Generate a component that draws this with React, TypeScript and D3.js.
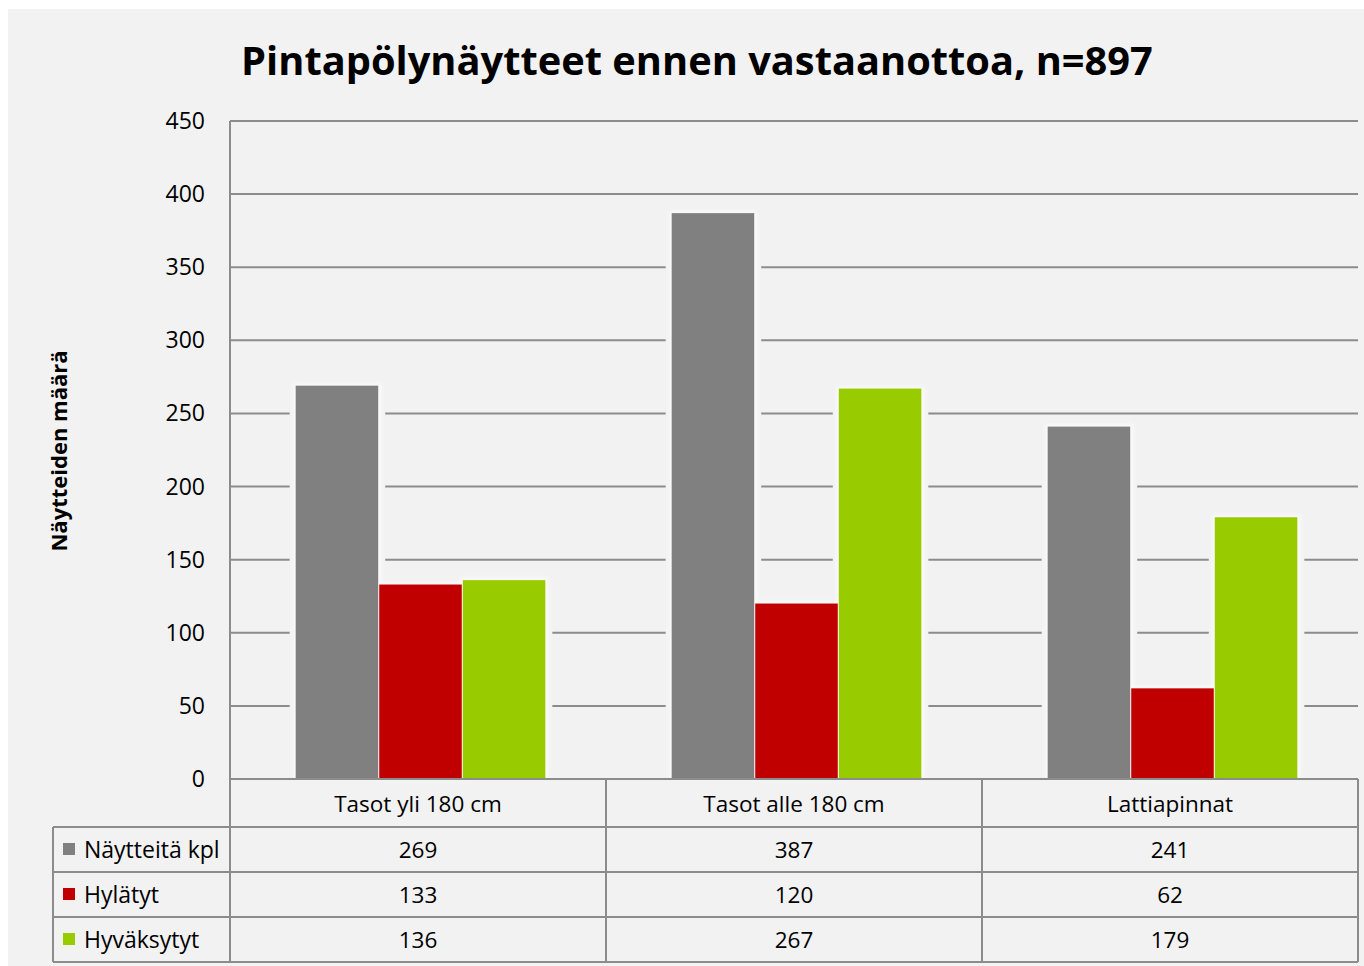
import React, { useEffect } from "react";
import * as d3 from "d3";

const categories = ["Tasot yli 180 cm", "Tasot alle 180 cm", "Lattiapinnat"];
const seriesNames = ["Näytteitä kpl", "Hylätyt", "Hyväksytyt"];
const naytteita = [269, 387, 241];
const hylatyt = [133, 120, 62];
const hyvaksytyt = [136, 267, 179];
const yTicks = [0, 50, 100, 150, 200, 250, 300, 350, 400, 450];
const colors = ["#808080", "#c00000", "#99cc00"];

const W = 1364;
const H = 966;
const FONT = "'Open Sans', sans-serif";

export default function App() {
  useEffect(() => {
    document.body.style.margin = "0";
  }, []);

  const series = [naytteita, hylatyt, hyvaksytyt];
  const left = 230;
  const right = 1358;
  const top = 121;
  const bottom = 779;
  const rowH = 45;
  const tableLeft = 53;
  const headerBottom = 827;
  const barShift = 3;

  const y = d3.scaleLinear().domain([0, 450]).range([bottom, top]);
  const x0 = d3.scaleBand<string>().domain(categories).range([left, right]).paddingInner(0).paddingOuter(0);
  const x1 = d3
    .scaleBand<string>()
    .domain(seriesNames)
    .range([0, x0.bandwidth()])
    .paddingInner(0)
    .paddingOuter(0.75);

  const lineColor = "#8c8c8c";
  const rowsTop = (i: number) => headerBottom + i * rowH;

  const bars = categories.flatMap((c, ci) =>
    seriesNames.map((s, si) => {
      const v = series[si][ci];
      const bx = (x0(c) as number) + (x1(s) as number) + barShift;
      const bw = x1.bandwidth();
      const by = y(v);
      const bh = bottom - by;
      return { key: c + s, bx, bw, by, bh, color: colors[si] };
    })
  );

  return (
    <svg width={W} height={H} style={{ display: "block" }} fontFamily={FONT}>
      <defs>
        <filter id="glow" x="-20%" y="-20%" width="140%" height="140%">
          <feGaussianBlur stdDeviation="2" />
        </filter>
      </defs>
      <rect x={0} y={0} width={W} height={H} fill="#ffffff" />
      <rect x={8} y={9} width={W - 8} height={H - 9} fill="#f2f2f2" />

      <text x={697} y={75} textAnchor="middle" fontSize={39.8} fontWeight="bold" fill="#000">
        Pintapölynäytteet ennen vastaanottoa, n=897
      </text>

      {yTicks.map((t) => (
        <line key={t} x1={left} x2={right} y1={y(t)} y2={y(t)} stroke={lineColor} strokeWidth={2} />
      ))}
      {yTicks.map((t) => (
        <text key={"l" + t} x={205} y={y(t) + 8} textAnchor="end" fontSize={23} fill="#000">
          {t}
        </text>
      ))}

      <text
        transform={`translate(67,${451}) rotate(-90)`}
        textAnchor="middle"
        fontSize={22}
        fontWeight="bold"
        fill="#000"
      >
        Näytteiden määrä
      </text>

      {bars.map((b) => (
        <rect key={"bg" + b.key} x={b.bx - 6} y={b.by - 2} width={b.bw + 12} height={b.bh + 1} fill="#f2f2f2" />
      ))}
      {bars.map((b) => (
        <rect
          key={"gl" + b.key}
          x={b.bx - 2}
          y={b.by - 2}
          width={b.bw + 4}
          height={b.bh + 1}
          fill="#ffffff"
          opacity={0.7}
          filter="url(#glow)"
        />
      ))}
      {bars.map((b) => (
        <rect key={"b" + b.key} x={b.bx} y={b.by} width={b.bw - 1} height={b.bh - 1} fill={b.color} />
      ))}

      <line x1={left} x2={left} y1={top} y2={bottom} stroke={lineColor} strokeWidth={2} />

      <line x1={left} x2={right} y1={bottom} y2={bottom} stroke={lineColor} strokeWidth={2} />
      {[0, 1, 2, 3].map((i) => (
        <line
          key={"h" + i}
          x1={tableLeft}
          x2={right}
          y1={rowsTop(i)}
          y2={rowsTop(i)}
          stroke={lineColor}
          strokeWidth={2}
        />
      ))}
      <line x1={tableLeft} x2={tableLeft} y1={headerBottom} y2={rowsTop(3)} stroke={lineColor} strokeWidth={2} />
      {categories.map((c) => (
        <line
          key={"v" + c}
          x1={x0(c) as number}
          x2={x0(c) as number}
          y1={bottom}
          y2={rowsTop(3)}
          stroke={lineColor}
          strokeWidth={2}
        />
      ))}
      <line x1={right} x2={right} y1={bottom} y2={rowsTop(3)} stroke={lineColor} strokeWidth={2} />

      {categories.map((c) => (
        <text
          key={"c" + c}
          x={(x0(c) as number) + x0.bandwidth() / 2}
          y={812}
          textAnchor="middle"
          fontSize={22.5}
          fill="#000"
        >
          {c}
        </text>
      ))}

      {seriesNames.map((s, si) => (
        <g key={"row" + s}>
          <rect x={63} y={rowsTop(si) + 16} width={12} height={12} fill={colors[si]} />
          <text x={84} y={rowsTop(si) + 31} fontSize={23} fill="#000">
            {s}
          </text>
          {categories.map((c, ci) => (
            <text
              key={"t" + c}
              x={(x0(c) as number) + x0.bandwidth() / 2}
              y={rowsTop(si) + 31}
              textAnchor="middle"
              fontSize={22.5}
              fill="#000"
            >
              {series[si][ci]}
            </text>
          ))}
        </g>
      ))}
    </svg>
  );
}
